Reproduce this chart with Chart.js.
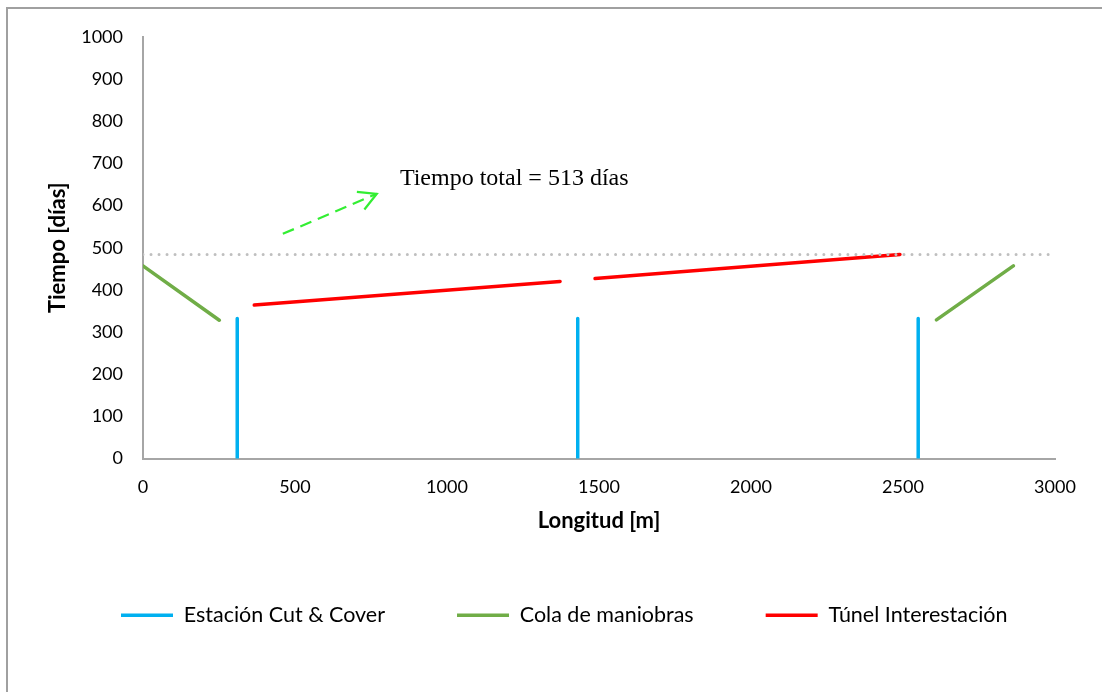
<!DOCTYPE html>
<html>
<head>
<meta charset="utf-8">
<script src="https://cdn.jsdelivr.net/npm/chart.js@4.4.1/dist/chart.umd.min.js"></script>
<style>
  html, body { margin: 0; padding: 0; background: #ffffff; overflow: hidden; }
  #wrap { width: 1102px; height: 692px; position: relative; }
</style>
</head>
<body>
<div id="wrap"><canvas id="c" width="1102" height="692"></canvas></div>
<script>
// Station works: vertical bars from 0 up to the end of each station (null = break)
const stationX = [310, 310, 310, 1430, 1430, 1430, 2550, 2550];
const stationY = [0, 332, null, 0, 332, null, 0, 332];

// Turning tails at both ends of the line
const tailX = [0, 251, 251, 2610, 2863];
const tailY = [457, 328, null, 329, 457];

// Tunnel drives between stations
const tunnelX = [366, 1372, 1372, 1487, 2490];
const tunnelY = [364, 420, null, 427, 484];

// Reference level at the end of the last tunnel drive
const endLevelX = [0, 2980];
const endLevelY = [484, 484];

// Annotation
const totalLabel = 'Tiempo total = 513 días';
const labelAt = { x: 845, y: 648 };
const arrowFrom = { x: 460, y: 533 };
const arrowTo = { x: 769, y: 628 };

const xTicks = [0, 500, 1000, 1500, 2000, 2500, 3000];
const yTicks = [0, 100, 200, 300, 400, 500, 600, 700, 800, 900, 1000];

const toPoints = (xs, ys) => xs.map((x, i) => ({ x: x, y: ys[i] }));

const frame = {
  id: 'frame',
  beforeDraw(chart) {
    const ctx = chart.ctx;
    ctx.save();
    ctx.fillStyle = '#ffffff';
    ctx.fillRect(0, 0, chart.width, chart.height);
    ctx.strokeStyle = '#a0a0a0';
    ctx.lineWidth = 2;
    ctx.beginPath();
    ctx.moveTo(7, chart.height + 5);
    ctx.lineTo(7, 8);
    ctx.lineTo(chart.width + 5, 8);
    ctx.stroke();
    ctx.restore();
  }
};

const annotation = {
  id: 'annotation',
  afterDatasetsDraw(chart) {
    const ctx = chart.ctx;
    const xs = chart.scales.x, ys = chart.scales.y;
    const x0 = xs.getPixelForValue(arrowFrom.x), y0 = ys.getPixelForValue(arrowFrom.y);
    const x1 = xs.getPixelForValue(arrowTo.x), y1 = ys.getPixelForValue(arrowTo.y);
    ctx.save();
    ctx.strokeStyle = '#33ee33';
    ctx.lineWidth = 2.2;
    ctx.setLineDash([12, 7]);
    ctx.beginPath();
    ctx.moveTo(x0, y0);
    ctx.lineTo(x1, y1);
    ctx.stroke();
    ctx.setLineDash([]);
    const ang = Math.atan2(y0 - y1, x0 - x1);
    const head = 20, spread = 0.5;
    ctx.beginPath();
    ctx.moveTo(x1 + head * Math.cos(ang - spread), y1 + head * Math.sin(ang - spread));
    ctx.lineTo(x1, y1);
    ctx.lineTo(x1 + head * Math.cos(ang + spread), y1 + head * Math.sin(ang + spread));
    ctx.stroke();
    ctx.fillStyle = '#000000';
    ctx.font = '24px "Liberation Serif", "Times New Roman", serif';
    ctx.textBaseline = 'alphabetic';
    ctx.textAlign = 'left';
    ctx.fillText(totalLabel, xs.getPixelForValue(labelAt.x), ys.getPixelForValue(labelAt.y));
    ctx.restore();
  }
};

const lineStyle = (color) => ({
  borderColor: color,
  backgroundColor: color,
  borderWidth: 3.5,
  borderCapStyle: 'round',
  pointRadius: 0,
  pointHoverRadius: 0,
  pointStyle: 'line',
  spanGaps: false,
  tension: 0
});

const uiFont = 'Lato, "Noto Sans", sans-serif';

new Chart(document.getElementById('c'), {
  type: 'line',
  data: {
    datasets: [
      {
        label: 'nivel',
        data: toPoints(endLevelX, endLevelY),
        borderColor: '#bfbfbf',
        borderWidth: 3,
        borderDash: [0.01, 8],
        borderCapStyle: 'round',
        pointRadius: 0,
        tension: 0
      },
      Object.assign({ label: 'Estación Cut & Cover', data: toPoints(stationX, stationY) }, lineStyle('#00b0f0')),
      Object.assign({ label: 'Cola de maniobras', data: toPoints(tailX, tailY) }, lineStyle('#70ad47')),
      Object.assign({ label: 'Túnel Interestación', data: toPoints(tunnelX, tunnelY) }, lineStyle('#ff0000'))
    ]
  },
  options: {
    responsive: false,
    animation: false,
    events: [],
    layout: { padding: { left: 49, right: 0, top: 37, bottom: 56 } },
    plugins: {
      tooltip: { enabled: false },
      legend: {
        position: 'bottom',
        align: 'start',
        labels: {
          filter: (item) => item.text !== 'nivel',
          usePointStyle: true,
          pointStyle: 'line',
          pointStyleWidth: 52,
          padding: 72,
          color: '#000000',
          font: { family: uiFont, size: 21.5 }
        }
      }
    },
    scales: {
      x: {
        type: 'linear',
        min: 0,
        max: 3000,
        afterBuildTicks: (s) => { s.ticks = xTicks.map(v => ({ value: v })); },
        afterFit: (s) => { s.height = 74; },
        grid: { display: false, drawTicks: false },
        border: { display: true, color: '#a6a6a6', width: 2 },
        ticks: { padding: 18, color: '#000000', font: { family: uiFont, size: 18 }, callback: (v) => String(v) },
        title: { display: true, text: 'Longitud [m]', color: '#000000', padding: { top: 4, bottom: -2 }, font: { family: uiFont, size: 22, weight: 'bold' } }
      },
      y: {
        type: 'linear',
        min: 0,
        max: 1000,
        afterBuildTicks: (s) => { s.ticks = yTicks.map(v => ({ value: v })); },
        afterFit: (s) => { s.width = 94; },
        grid: { display: false, drawTicks: false },
        border: { display: true, color: '#a6a6a6', width: 2 },
        ticks: { padding: 20, color: '#000000', font: { family: uiFont, size: 18 }, callback: (v) => String(v) },
        title: { display: true, text: 'Tiempo [días]', color: '#000000', padding: { top: -4, bottom: 0 }, font: { family: uiFont, size: 22, weight: 'bold' } }
      },
      // empty right-hand margin beside the plot
      y2: {
        type: 'linear',
        position: 'right',
        display: true,
        afterFit: (s) => { s.width = 47; },
        grid: { display: false, drawTicks: false },
        border: { display: false },
        ticks: { display: false }
      }
    }
  },
  plugins: [frame, annotation]
});
</script>
</body>
</html>
